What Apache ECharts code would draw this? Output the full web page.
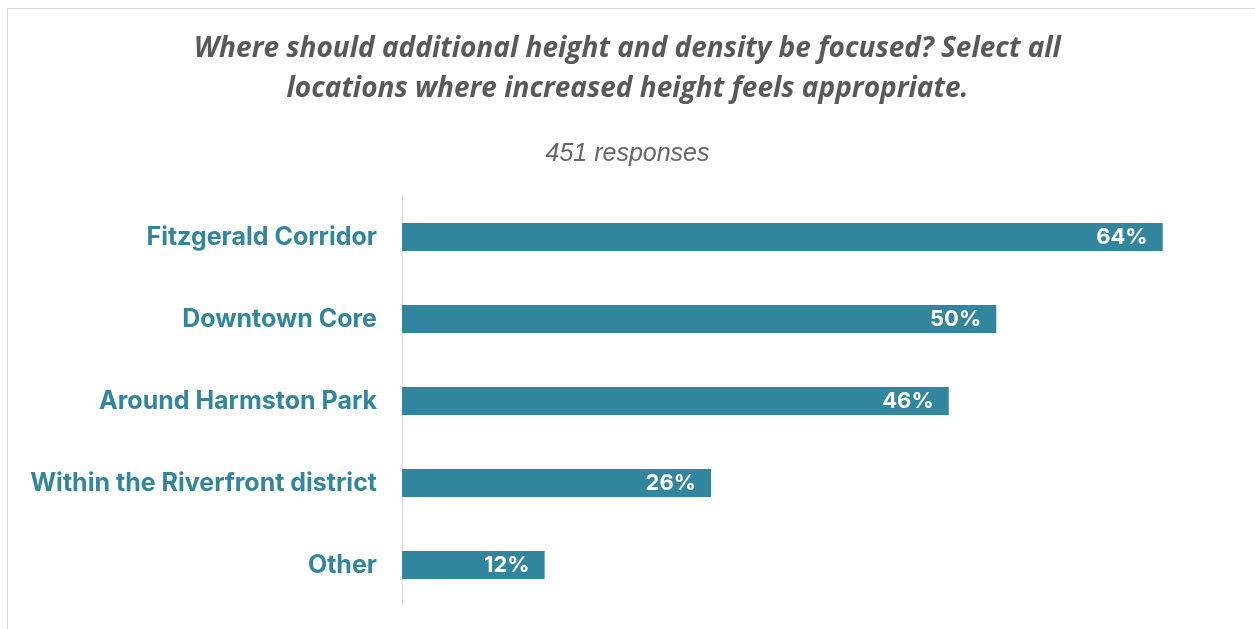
<!DOCTYPE html>
<html>
<head>
<meta charset="utf-8">
<script src="https://cdn.jsdelivr.net/npm/echarts@6/dist/echarts.min.js"></script>
<style>
  html, body { margin: 0; padding: 0; background: #ffffff; }
  #frame { position: absolute; left: 7px; top: 8px; width: 1260px; height: 640px; border: 1px solid #d9d9d9; box-sizing: border-box; }
  #chart { position: absolute; left: 0; top: 0; width: 1255px; height: 629px; }
</style>
</head>
<body>
<div id="frame"></div>
<div id="chart"></div>
<script>
// Survey categories (top to bottom) and share of respondents (%)
const categories = [
  'Fitzgerald Corridor',
  'Downtown Core',
  'Around Harmston Park',
  'Within the Riverfront district',
  'Other'
];
const shares = [64, 50, 46, 26, 12];
const titleLines = [
  'Where should additional height and density be focused? Select all',
  'locations where increased height feels appropriate.'
];
const subtitleText = '451 responses';

const teal = '#31859c';
const titleStyle = {
  fontFamily: 'Open Sans',
  fontStyle: 'italic',
  fontWeight: 'bold',
  fontSize: 28,
  color: '#595959'
};

const chart = echarts.init(document.getElementById('chart'), null, { renderer: 'canvas' });
chart.setOption({
  backgroundColor: 'transparent',
  title: [
    { text: titleLines[0], left: 'center', top: 30, textStyle: titleStyle },
    { text: titleLines[1], left: 'center', top: 70, textStyle: titleStyle },
    {
      text: subtitleText,
      left: 'center',
      top: 137,
      textStyle: {
        fontFamily: 'Liberation Sans',
        fontStyle: 'italic',
        fontWeight: 'normal',
        fontSize: 25,
        color: '#666666'
      }
    }
  ],
  grid: { left: 402, top: 196, width: 832, height: 410, containLabel: false },
  xAxis: {
    type: 'value',
    min: 0,
    max: 70,
    show: false
  },
  yAxis: {
    type: 'category',
    data: categories,
    inverse: true,
    axisLine: { show: true, lineStyle: { color: '#d9d9d9', width: 1 } },
    axisTick: { show: false },
    axisLabel: {
      margin: 25,
      fontFamily: 'Inter',
      fontWeight: 'bold',
      fontSize: 25,
      color: teal
    }
  },
  series: [{
    type: 'bar',
    data: shares,
    barWidth: 28,
    itemStyle: { color: teal },
    label: {
      show: true,
      position: 'insideRight',
      distance: 15,
      formatter: p => p.value + '%',
      fontFamily: 'Inter',
      fontWeight: 'bold',
      fontSize: 22,
      color: '#ffffff'
    }
  }],
  animation: false
});
</script>
</body>
</html>
